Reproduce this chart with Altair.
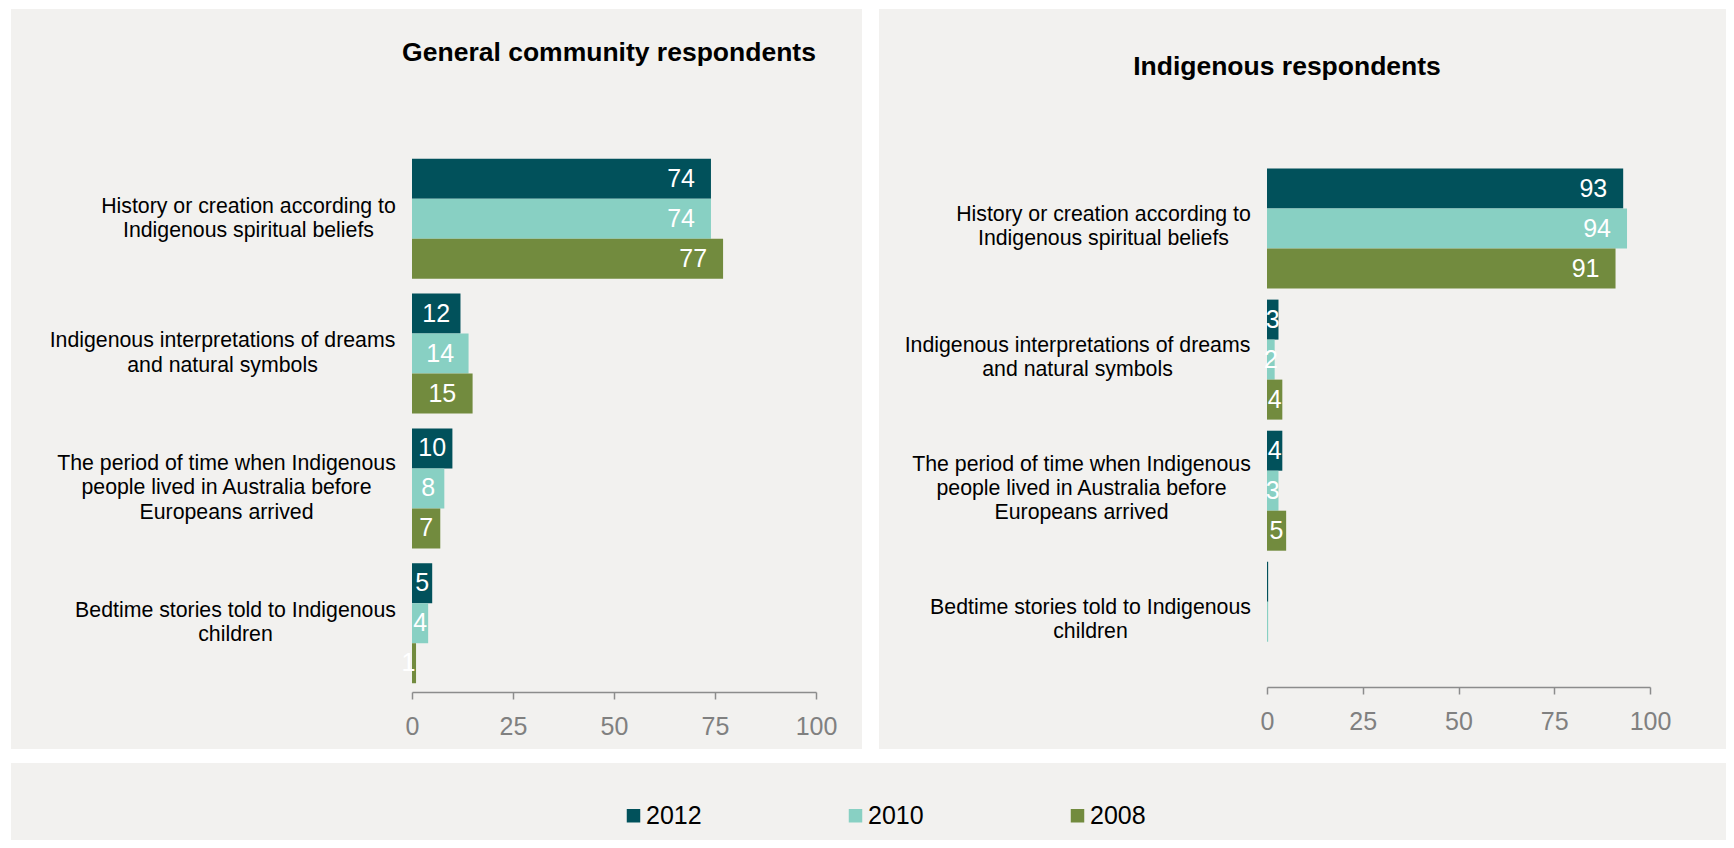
import altair as alt
import pandas as pd

# ---------------- data ----------------
CATEGORIES = [
    "History or creation according to|Indigenous spiritual beliefs",
    "Indigenous interpretations of dreams|and natural symbols",
    "The period of time when Indigenous|people lived in Australia before|Europeans arrived",
    "Bedtime stories told to Indigenous|children",
]
YEARS = ["2012", "2010", "2008"]
GENERAL_2012 = [74, 12, 10, 5]
GENERAL_2010 = [74, 14, 8, 4]
GENERAL_2008 = [77, 15, 7, 1]
INDIGENOUS_2012 = [93, 3, 4, 0.3]
INDIGENOUS_2010 = [94, 2, 3, 0.3]
INDIGENOUS_2008 = [91, 4, 5, 0]
TITLES = ["General community respondents", "Indigenous respondents"]
X_TICKS = [0, 25, 50, 75, 100]

# ---------------- style ----------------
COLORS = ["#01515B", "#88D0C3", "#728B3E"]
PANEL = "#F2F1EF"
AXIS_GREY = "#8C8C8C"
FONT = "Liberation Sans"
LABEL_FS = 21.3
LINE_H = 24.3
LABEL_PADS = [164, 190, 186, 177]
PANEL_H = 740


def make_df(v2012, v2010, v2008):
    rows = []
    for yr, vals in zip(YEARS, [v2012, v2010, v2008]):
        for c, v in zip(CATEGORIES, vals):
            rows.append({"category": c, "year": yr, "value": v})
    return pd.DataFrame(rows)


LEGEND = alt.Legend(
    title=None, orient="none", legendX=610, legendY=794,
    direction="horizontal", symbolType="square", symbolSize=182,
    symbolStrokeWidth=0, labelFontSize=25, labelColor="black", labelFont=FONT,
    labelOffset=0, columnPadding=141, padding=0)

COLOR = alt.Color("year:N", sort=YEARS,
                  scale=alt.Scale(domain=YEARS, range=COLORS), legend=LEGEND)


def y_axis(x0):
    pad_cond = [
        {"test": f"datum.value == '{c}'", "value": p}
        for c, p in zip(CATEGORIES[:-1], LABEL_PADS[:-1])
    ]
    # centre multi-line labels vertically on their band
    off_cond = [
        {"test": f"datum.value == '{c}'",
         "value": -(c.count("|")) * LINE_H / 2}
        for c in CATEGORIES[:-1]
    ]
    return alt.Axis(
        title=None, domain=False, ticks=False, labelAlign="center",
        labelBaseline="middle", labelFontSize=LABEL_FS, labelColor="black",
        labelLineHeight=LINE_H, labelLimit=0, labelFont=FONT, offset=-x0,
        labelPadding={"condition": pad_cond, "value": LABEL_PADS[-1]},
        labelOffset={"condition": off_cond,
                     "value": -(CATEGORIES[-1].count("|")) * LINE_H / 2},
        labelExpr="split(datum.label, '|')",
    )


def x_axis(y1):
    return alt.Axis(
        title=None, values=X_TICKS, grid=False, domainColor=AXIS_GREY,
        domainWidth=1.5, tickColor=AXIS_GREY, tickWidth=1.5, tickSize=7,
        labelColor="#808080", labelFontSize=25, labelPadding=15,
        labelFlush=False, labelFont=FONT, offset=-(PANEL_H - y1))


def panel(df, title, pw, xr, yr, title_dx, title_dy):
    base = alt.Chart(df)
    yscale = alt.Scale(range=list(yr), paddingInner=0.11, paddingOuter=0.065)
    xscale = alt.Scale(domain=[0, 100], nice=False, range=list(xr))
    yoff = alt.YOffset("year:N", sort=YEARS)
    xa = x_axis(yr[1])
    y = alt.Y("category:N", sort=CATEGORIES, scale=yscale, axis=y_axis(xr[0]))

    bars = base.mark_bar().encode(
        x=alt.X("value:Q", scale=xscale, axis=xa),
        y=y, yOffset=yoff, color=COLOR,
    )

    txt = dict(color="white", fontSize=25, baseline="middle", font=FONT)
    big = base.transform_filter("datum.value >= 50").mark_text(
        align="right", dx=-16, **txt).encode(
        x=alt.X("value:Q", scale=xscale, axis=xa),
        y=y, yOffset=yoff,
        text=alt.Text("value:Q", format="d"),
    )
    # small values: label centred on the bar (or just before a very thin bar)
    small = base.transform_filter("datum.value >= 1 && datum.value < 50") \
        .transform_calculate(
            label="format(datum.value, 'd')",
            value="datum.value < 2 ? datum.value - 1.9 : datum.value / 2",
        ).mark_text(align="center", **txt).encode(
        x=alt.X("value:Q", scale=xscale, axis=xa),
        y=y, yOffset=yoff,
        text=alt.Text("label:N"),
    )

    return alt.layer(bars, big, small).properties(
        width=pw, height=PANEL_H,
        view=alt.ViewBackground(fill=PANEL, strokeWidth=0),
        title=alt.TitleParams(
            text=title, fontSize=26.5, fontWeight="bold", color="black",
            font=FONT, anchor="middle", frame="group", offset=0,
            baseline="alphabetic", dx=title_dx, dy=title_dy),
    )


left = panel(make_df(GENERAL_2012, GENERAL_2010, GENERAL_2008), TITLES[0],
             851, (401, 805), (141, 683), 172.5, 78)
right = panel(make_df(INDIGENOUS_2012, INDIGENOUS_2010, INDIGENOUS_2008), TITLES[1],
              847, (388, 771), (151, 678), -15.5, 92)

bottom = alt.Chart(pd.DataFrame({"year": YEARS})).mark_point(opacity=0).encode(
    color=COLOR
).properties(
    width=1715, height=77, view=alt.ViewBackground(fill=PANEL, strokeWidth=0))

chart = alt.vconcat(
    alt.hconcat(left, right, spacing=17), bottom, spacing=14
).properties(
    padding={"left": 3, "top": 1, "right": 0, "bottom": 0}, background="white"
).configure(font=FONT).configure_view(strokeWidth=0)

chart.save("out.html", embed_options={"renderer": "svg", "actions": False})
